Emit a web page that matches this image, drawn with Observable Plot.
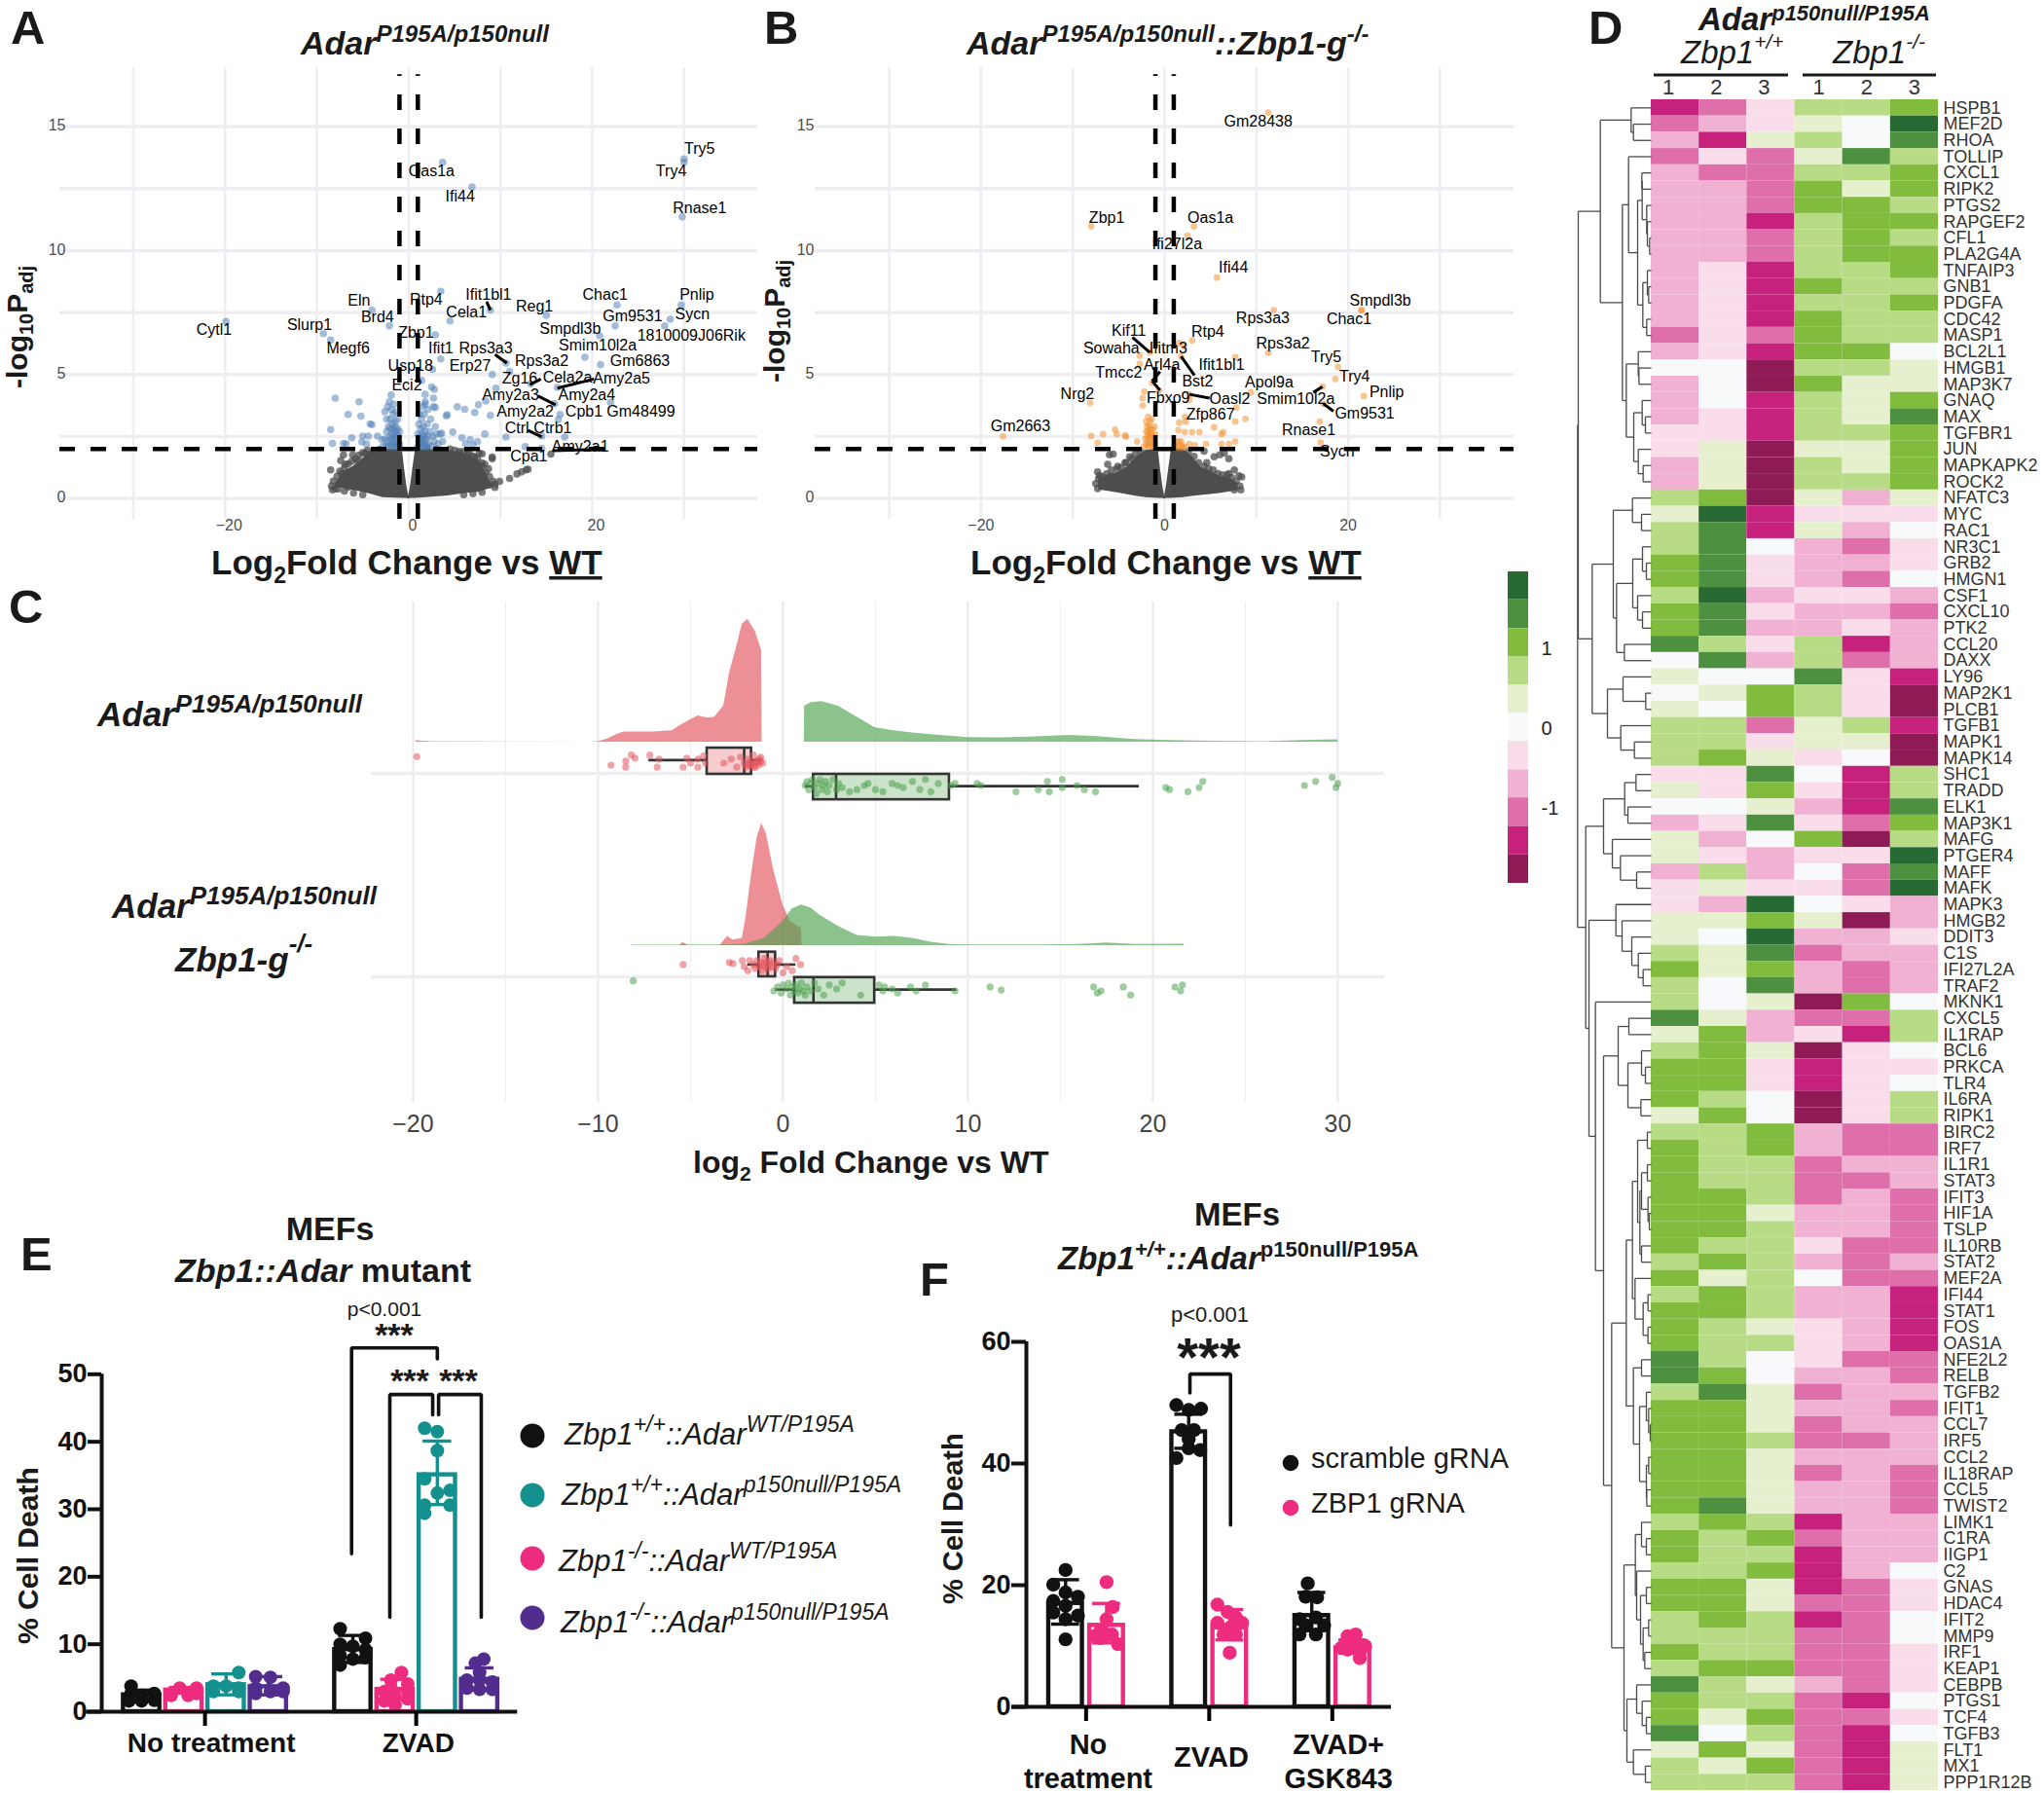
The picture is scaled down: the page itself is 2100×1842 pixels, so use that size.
<!DOCTYPE html>
<html><head><meta charset="utf-8">
<script src="https://cdn.jsdelivr.net/npm/d3@7"></script>
<script src="https://cdn.jsdelivr.net/npm/@observablehq/plot@0.6"></script>
<style>
html,body{margin:0;padding:0;background:#fff}
#page{position:relative;width:2100px;height:1842px;overflow:hidden;font-family:"Liberation Sans",Arial,sans-serif}
#page svg{position:absolute;overflow:visible}
</style></head><body><div id="page"></div>
<script>
/* ---------- Panel A: volcano ---------- */
const gridX=[-30,-20,-10,0,10,20,30], gridY=[0,2.5,5,7.5,10,12.5,15];
const cloudA=[[-8,.45,.6],[-7,.4,1.1],[-6,.33,1.3],[-5,.25,1.6],[-4.2,.18,1.9],[-2.8,.03,2],[-.7,0,2],[-.45,0,1.2],[-.2,0,.5],[0,-.03,.1],[.2,0,.5],[.45,0,1.2],[.75,0,2],[4.3,.1,1.95],[6.1,.2,1.8],[7.8,.26,1.5],[8.8,.4,.75],[9.2,.45,.5]];
const grayA=[[-8.5,1.15],[-7.1,1.76],[-7.4,1.53],[-6.9,1.38],[-7.3,1],[-6.6,.84],[-6.1,1.76],[-5.5,1.53],[-4.7,1.83],[-4.2,1.6],[-6.6,.46],[-7.7,.38],[5.6,1.83],[6.4,1.76],[7.2,1.68],[7.7,1.83],[9.1,1.6],[8.3,1.38],[6.9,1.15],[8.8,.54],[9.4,.58],[9.9,.69],[11,.81],[11.8,.99],[12.3,1.07],[12.8,1.15],[13,1.18],[15.5,1.79],[8,1.8],[9.1,1.67],[8,1.44],
[-7.8,.9],[-7.5,1.1],[-7,1.25],[-6.6,1.4],[-6.2,1.5],[-5.8,1.6],[-5.4,1.75],[-5,1.85],[-4.5,1.95],[-3.8,1.95],[-3.2,1.98],[-8.2,.7],[-8.4,.5],[-8.3,.35],[4.5,2],[5,1.95],[5.5,1.9],[6,1.9],[6.6,1.85],[7,1.7],[7.5,1.6],[8,1.3],[8.4,1.05],[8.8,.9],[9.2,.7],[9.4,.45],[8.7,1.2],[3,2],[2,2],[-7,.3],[-6,.22],[-5,.15],[6,.15],[7,.2],[8,.25],[-8,.4]];
const blueA=[[-19.9,7.14],[-9.3,6.65],[-8.5,6.39],[-4,7.6],[-2.1,6.96],[3.7,13.56],[6.9,12.57],[30,13.7],[30,13.56],[29.8,11.36],[3.5,8.36],[8.9,7.6],[4.5,7.16],[15,7.39],[22.7,7.81],[22.5,6.96],[29.7,7.81],[28.5,7.23],[27.9,6.96],[2.9,6.6],[20.8,6.56],[3.5,5.63],[2.6,5.21],[19.2,5.7],[20.9,5.4],[10.6,5.46],[11,5.12],[9.1,5],[1.4,4.76],[13.3,4.63],[16.2,4.48],[9.5,4.45],[15.9,3.82],[22,3.87],[16.5,3.39],[16.3,3.18],[14.5,2.52],[17,2.48],[14.5,2.02],[12.7,2.09],[10.6,2.48],
[-8,4.05],[-5.4,3.9],[-6.6,3.39],[-5.2,3.32],[-4.2,3.01],[-4,2.98],[-8.5,2.78],[-8.3,2.22],[-7.1,2.22],[-6.2,2.45],[-5,2.52],[-5.1,2.28],[-4.4,2.52],[-3.4,2.52],[-2.9,2.37],[-4.6,2.2],[-6.8,2.2],[-1.9,4.17],
[1.8,4.2],[2.5,4.5],[2.8,4.4],[2.7,4.05],[1.8,3.8],[2.9,3.67],[4.1,3.33],[4.2,3.38],[5.3,3.7],[6.1,3.6],[7.2,3.47],[7.6,3.78],[8.4,3.93],[8.9,3.35],[4.8,2.68],[3.6,2.63],[5.8,2.45],[6.7,2.37],[7.5,2.29],[8.3,2.6],[6.2,2.2],[7,2.15],
[-2.8,2.1],[-2.6,2.4],[-2.5,2.1],[-2.4,2.7],[-2.3,2.3],[-2.2,2.1],[-2.2,2.9],[-2.1,2.5],[-2,2.2],[-2,2.8],[-2,3.2],[-1.9,2.4],[-1.9,3.6],[-1.8,2.1],[-1.8,2.6],[-1.8,3],[-1.7,2.3],[-1.7,2.8],[-1.7,3.4],[-1.6,2.1],[-1.6,2.5],[-1.6,3.8],[-1.5,2.2],[-1.5,2.7],[-1.5,3.1],[-1.4,2.4],[-1.4,2.9],[-1.4,3.5],[-1.3,2.1],[-1.3,2.6],[-1.2,2.3],[-1.2,2.8],[-1.2,3.2],[-1.1,2.1],[-1.1,2.5],[-1,2.2],[-1,2.7],[-2.6,3.5],[-2.4,3.2],[-2.3,3.7],[-2.1,3.9],
[1,2.1],[1,2.6],[1.1,2.3],[1.1,3],[1.2,2.1],[1.2,2.5],[1.2,3.4],[1.3,2.2],[1.3,2.8],[1.4,2.4],[1.4,3.2],[1.5,2.1],[1.5,2.6],[1.5,3.7],[1.6,2.3],[1.6,2.9],[1.7,2.1],[1.7,2.5],[1.7,3.4],[1.8,2.2],[1.8,2.7],[1.8,3.9],[1.9,2.4],[2,2.1],[2,3],[2.1,2.5],[2.1,3.6],[2.2,2.2],[2.3,2.7],[2.4,3.2],[2.5,2.1],[2.6,2.5],[2.7,3.7],[2.8,2.3],[2.9,2.9],[3,2.6],[3.2,2.2],[3.4,2.6],[3.7,2.3]];
const labelsA=[["Cytl1",-21.2,6.8],["Slurp1",-10.8,7],["Megf6",-6.6,6.04],["Eln",-5.4,7.98],["Brd4",-3.4,7.31],["Rtp4",1.9,8.03],["Ifit1bl1",8.7,8.21],["Cela1",6.3,7.52],["Reg1",13.7,7.75],["Chac1",21.4,8.21],["Gm9531",24.4,7.34],["Pnlip",31.4,8.21],["Sycn",30.9,7.45],["1810009J06Rik",30.8,6.57],["Zbp1",.8,6.7],["Smpdl3b",17.6,6.83],["Ifit1",3.5,6.04],["Rps3a3",8.4,6.07],["Rps3a2",14.5,5.54],["Smim10l2a",20.6,6.19],["Gm6863",25.2,5.54],["Usp18",.2,5.35],["Erp27",6.7,5.35],["Zg16",12.1,4.85],["Cela2a",17.3,4.88],["Amy2a5",23.2,4.85],["Eci2",-.2,4.56],["Amy2a3",11.1,4.17],["Amy2a4",19.4,4.17],["Amy2a2",12.7,3.52],["Cpb1",19.1,3.52],["Gm48499",25.3,3.52],["Ctrl",11.8,2.83],["Ctrb1",15.7,2.83],["Amy2a1",18.7,2.09],["Cpa1",13.1,1.71],["Try5",31.7,14.1],["Try4",28.6,13.2],["Oas1a",2.5,13.2],["Ifi44",5.6,12.2],["Rnase1",31.7,11.7]];
const connA=[[8.5,7.94,8.9,7.6],[9.4,5.81,10.7,5.46],[13.2,4.59,14.4,4.82],[16.2,4.45,20.2,4.82],[14.1,4.13,16,3.78],[13,2.75,14.5,2.48],[15.7,1.93,21.3,1.99]];

/* ---------- Panel B: volcano ---------- */
const cloudB=[[-7.2,.35,.75],[-6,.28,1],[-5,.22,1.05],[-4,.15,1.3],[-3,.08,1.7],[-2,.03,1.95],[-.7,0,2],[-.45,0,1.2],[-.2,0,.5],[0,-.03,.1],[.2,0,.5],[.45,0,1.2],[.75,0,2],[2,.03,2],[3,.08,1.7],[4,.12,1.25],[5,.16,1.1],[6,.2,.9],[7,.26,.85],[8,.33,.6]];
const grayB=[[-7.3,1.07],[-7.1,.92],[-6,1.76],[-5.6,1.79],[-6.2,1.38],[-5.1,1.3],[-4.3,1.45],[-3.8,1.68],[7,1.6],[6.5,1.83],[6,1.76],[8.1,.92],[7.6,1.15],[7,1],[5.4,1.68],[4.6,1.45],[4.3,1.91],[8.4,.87],
[-7.5,.6],[-7.2,.8],[-6.8,.9],[-6.3,1],[-5.8,1.15],[-5.2,1.2],[-4.7,1.25],[-4.2,1.45],[-3.6,1.6],[-3.2,1.8],[-2.6,1.9],[2.6,1.9],[3.2,1.7],[3.7,1.45],[4.3,1.3],[4.8,1.2],[5.3,1.15],[5.8,1],[6.3,.95],[6.8,.95],[7.3,.85],[7.8,.7],[8.2,.5],[8.3,.35],[7.6,.35],[-7.3,.4]];
const orangeB=[[11.3,15.57],[-8,10.98],[3.2,10.98],[2.5,10.6],[5.7,8.91],[21.5,7.6],[21.4,7.6],[11.9,7.6],[3,6.38],[-1.6,5.89],[-2.7,5.76],[1.6,6.27],[2.1,6.15],[-2.7,5.43],[11.3,5.87],[7.7,5.7],[1.8,5.73],[18.9,5.31],[18.6,4.82],[21.7,4.13],[9.4,4.28],[17.2,4.51],[17.3,3.82],[-8.1,3.85],[-1.35,4.66],[-.6,4.36],[2.7,4.2],[2.7,3.98],[-2.2,4.31],[-2.4,4.05],[-2.4,3.75],[7.8,3.67],[2.2,3.29],[2.3,3.1],[8.8,3.21],[7.7,3.1],[16.9,3.1],[5.4,2.87],[17,2.26],[-17.6,2.51],
[-8,2.52],[-6.7,2.6],[-5.4,2.78],[-5.2,2.6],[-4.3,2.55],[-4.2,2.49],[-3,2.3],[-7.3,2.25],[1.6,3.06],[1.5,2.76],[2.2,2.68],[3,2.68],[3.8,2.68],[4.5,2.2],[6.2,2.6],[6.4,2.68],[6.2,2.2],[7,2.2],[7.7,2.3],[2.7,2.2],[2.2,2.1],[3.3,2.15],[1.6,2.3],[1.9,2.05],
[-2.2,2.1],[-2.1,2.4],[-2,2.2],[-2,2.7],[-2,3.1],[-1.9,2.5],[-1.9,2.9],[-1.8,2.1],[-1.8,2.3],[-1.8,2.7],[-1.8,3.3],[-1.7,2.5],[-1.7,2.9],[-1.6,2.2],[-1.6,2.6],[-1.6,3.1],[-1.5,2.4],[-1.5,2.8],[-1.4,2.1],[-1.4,2.6],[-1.4,3.2],[-1.3,2.3],[-1.3,2.8],[-1.2,2.5],[-1.2,2.1],[-1.1,2.4],[-1.1,2.9],[-1,2.2],[-1,2.6],[1.1,2.1],[1.3,2.3],[1.4,2.05],[1.6,2.15],[1.8,2.3],[2,2.1]];
const labelsB=[["Gm28438",10.2,15.2],["Zbp1",-6.3,11.3],["Oas1a",5,11.3],["Ifi27l2a",1.35,10.24],["Ifi44",7.5,9.3],["Smpdl3b",23.5,7.98],["Chac1",20.1,7.23],["Rps3a3",10.7,7.26],["Rtp4",4.7,6.73],["Kif11",-3.9,6.76],["Sowaha",-5.8,6.07],["Ifitm3",.4,6.07],["Rps3a2",12.9,6.25],["Try5",17.6,5.69],["Ifit1bl1",6.2,5.4],["Arl4a",-.3,5.38],["Tmcc2",-5,5.09],["Try4",20.7,4.92],["Bst2",3.6,4.72],["Apol9a",11.4,4.69],["Nrg2",-9.5,4.2],["Pnlip",24.2,4.28],["Fbxo9",.4,4.05],["Oasl2",7.1,4.02],["Smim10l2a",14.3,4.02],["Gm9531",21.8,3.44],["Zfp867",5,3.39],["Rnase1",15.7,2.75],["Gm2663",-15.7,2.9],["Sycn",18.8,1.88]];
const connB=[[-3.5,6.5,-1.6,5.89],[1.8,5.73,3.25,4.97],[-.5,5.12,-1.35,4.74],[-1.35,4.74,-.5,4.36],[2.7,4.2,4.9,4.05],[16.2,4.28,17.2,4.51],[17.3,3.82,18.4,3.52]];

/* ---------- Panel C: raincloud ---------- */
const cTicks=[-20,-10,0,10,20,30], cMinor=[-15,-5,5,15,25];
const densRedA=[[-19.9,0],[-19.8,.008],[-19.5,.005],[-19,.002],[-10.5,0],[-10,.002],[-9.5,.015],[-9,.037],[-8.6,.05],[-8,.05],[-7,.05],[-6,.056],[-5.5,.085],[-5,.11],[-4.6,.129],[-4.1,.12],[-3.7,.122],[-3.2,.18],[-2.9,.335],[-2.5,.47],[-2.2,.58],[-1.9,.604],[-1.5,.546],[-1.15,.45],[-1.13,0]];
const densGreenA=[[1.15,0],[1.17,.177],[1.5,.194],[2.1,.2],[3,.177],[4,.123],[5,.07],[6,.056],[7,.046],[8,.037],[10,.023],[12,.021],[14,.027],[15.5,.033],[17,.027],[19,.013],[21,.008],[24,.004],[26,.002],[28,.008],[30,.012],[30.01,0]];
const densRedB=[[-8.2,0],[-5.6,0],[-5.4,.015],[-5.1,0],[-3.4,0],[-3,.046],[-2.7,.027],[-2.2,.036],[-2,.14],[-1.7,.35],[-1.4,.53],[-1.15,.6],[-.9,.55],[-.5,.37],[0,.2],[.4,.12],[.7,.1],[1,.085],[1.03,0]];
const densGreenB=[[-8.2,.002],[-3,.003],[-2,.008],[-1,.036],[0,.12],[.5,.18],[1,.2],[1.5,.185],[2,.15],[3,.095],[4,.05],[5,.042],[6,.046],[7,.036],[8,.017],[9,.006],[10,.004],[14,.003],[16,.006],[17.5,.013],[19,.006],[21.7,.007]];
const cBase=[["A",1],["B",0]];
const cBoxes=[{q1:-4.1,med:-2.1,q3:-1.7,lo:-7.25,hi:-1.1,y1:.995,y2:1.124,w:1.065,col:"#E4555C"},{q1:1.65,med:2.87,q3:9,lo:1.2,hi:19.27,y1:.87,y2:.995,w:.937,col:"#4FA24F"},{q1:-1.3,med:-.83,q3:-.4,lo:-1.9,hi:.7,y1:0,y2:.121,w:.06,col:"#E4555C"},{q1:.63,med:1.65,q3:4.96,lo:-.4,hi:9.4,y1:-.13,y2:-.004,w:-.063,col:"#4FA24F"}];
const jitRedA=[[-19.8,1.082],[-9.3,1.04],[-8.5,1.03],[-8.5,1.06],[-8.2,1.09],[-8,1.075],[-7.2,1.09],[-6.8,1.03],[-6.7,1.07],[-5.4,1.03],[-5.2,1.075],[-5,1.05],[-4.6,1.07],[-4.6,1.03],[-4.3,1.085],[-4.2,1.05],[-3.2,1.05],[-2.8,1.07],[-2.5,1.03],[-2.3,1.08],[-2.1,1.05],[-2,1.03],[-1.9,1.07],[-1.8,1.05],[-1.6,1.09],[-1.5,1.03],[-1.4,1.06],[-1.3,1.04],[-1.2,1.08],[-1.1,1.05],[-1.7,1.06],[-1.5,1.05],[-1.3,1.07],[-1.9,1.04],[-1.6,1.03],[-1.4,1.05],[-1.7,1.04],[-1.2,1.06]];
const jitGreenA=[[1.2,.94],[1.3,.96],[1.4,.92],[1.5,.95],[1.6,.97],[1.7,.93],[1.8,.9],[1.9,.95],[2,.97],[2.1,.92],[2.2,.94],[2.3,.96],[2.4,.91],[2.5,.94],[2.7,.97],[2.9,.92],[3,.95],[3.2,.93],[3.6,.91],[4,.92],[4.4,.94],[4.6,.95],[5,.92],[5.4,.91],[5.9,.95],[6.2,.94],[6.5,.93],[7,.96],[7.4,.92],[7.7,.97],[8,.91],[8.4,.95],[9.1,.94],[9.3,.95],[10.5,.95],[10.7,.94],[12.6,.91],[13.8,.92],[14.3,.96],[14.4,.91],[15.1,.97],[15.1,.93],[15.9,.94],[16.3,.92],[16.9,.91],[20.7,.93],[20.9,.92],[21.9,.91],[22.5,.93],[22.7,.96],[28.2,.94],[28.8,.96],[29.7,.98],[30,.95],[29.9,.93]];
const jitRedB=[[-5.4,.06],[-2.9,.07],[-2.7,.065],[-2.2,.08],[-2.1,.05],[-1.9,.03],[-1.8,.08],[-1.6,.06],[-1.5,.04],[-1.4,.08],[-1.3,.05],[-1.2,.07],[-1.1,.03],[-1.1,.06],[-1,.09],[-1,.05],[-.9,.07],[-.8,.04],[-.8,.06],[-.7,.08],[-.6,.05],[-.5,.07],[-.4,.04],[-.3,.06],[-.2,.08],[.2,.05],[.5,.03],[.7,.09],[.95,.06],[0,.02]];
const jitGreenB=[[-8.1,-.02],[-.5,-.07],[-.3,-.05],[-.1,-.08],[0,-.04],[.2,-.06],[.3,-.03],[.4,-.09],[.5,-.05],[.6,-.07],[.7,-.04],[.8,-.08],[.9,-.06],[1,-.03],[1.1,-.07],[1.2,-.09],[1.3,-.05],[1.5,-.07],[1.7,-.03],[1.9,-.06],[2.2,-.09],[2.5,-.04],[2.9,-.06],[3.2,-.03],[4.2,-.09],[5.2,-.04],[5.4,-.07],[5.5,-.05],[5.9,-.06],[6.2,-.08],[6.9,-.05],[7.2,-.07],[7.7,-.04],[9.3,-.07],[11.2,-.05],[11.8,-.065],[16.8,-.05],[17,-.08],[17.2,-.07],[18.4,-.05],[18.8,-.09],[21.2,-.05],[21.5,-.07],[21.6,-.04]];

/* ---------- Panel D: heatmap ---------- */
const genes=["HSPB1","MEF2D","RHOA","TOLLIP","CXCL1","RIPK2","PTGS2","RAPGEF2","CFL1","PLA2G4A","TNFAIP3","GNB1","PDGFA","CDC42","MASP1","BCL2L1","HMGB1","MAP3K7","GNAQ","MAX","TGFBR1","JUN","MAPKAPK2","ROCK2","NFATC3","MYC","RAC1","NR3C1","GRB2","HMGN1","CSF1","CXCL10","PTK2","CCL20","DAXX","LY96","MAP2K1","PLCB1","TGFB1","MAPK1","MAPK14","SHC1","TRADD","ELK1","MAP3K1","MAFG","PTGER4","MAFF","MAFK","MAPK3","HMGB2","DDIT3","C1S","IFI27L2A","TRAF2","MKNK1","CXCL5","IL1RAP","BCL6","PRKCA","TLR4","IL6RA","RIPK1","BIRC2","IRF7","IL1R1","STAT3","IFIT3","HIF1A","TSLP","IL10RB","STAT2","MEF2A","IFI44","STAT1","FOS","OAS1A","NFE2L2","RELB","TGFB2","IFIT1","CCL7","IRF5","CCL2","IL18RAP","CCL5","TWIST2","LIMK1","C1RA","IIGP1","C2","GNAS","HDAC4","IFIT2","MMP9","IRF1","KEAP1","CEBPB","PTGS1","TCF4","TGFB3","FLT1","MX1","PPP1R12B"];
const samples=["a1","a2","a3","b1","b2","b3"], sampleLabel={a1:"1",a2:"2",a3:"3",b1:"1",b2:"2",b3:"3"};
const heat=[[-4,-3,-1,2,2,3],[-3,-2,-1,1,0,5],[-2,-4,1,2,0,4],[-3,-1,-3,1,4,2],[-2,-3,-3,2,2,3],[-2,-2,-3,3,1,3],[-2,-2,-3,3,3,2],[-2,-2,-4,2,3,3],[-2,-2,-3,2,3,2],[-2,-2,-3,2,3,3],
[-2,-1,-4,2,2,3],[-2,-1,-4,3,2,2],[-2,-1,-4,2,2,3],[-2,-1,-4,3,2,2],[-3,-1,-3,3,2,2],[-2,-1,-4,3,3,0],[0,0,-5,2,2,1],[-2,0,-5,3,1,1],[-2,0,-4,2,1,3],[-2,-1,-4,2,1,4],
[-1,-1,-4,2,2,3],[-1,1,-5,1,1,3],[-2,1,-5,2,1,3],[-2,1,-5,2,2,3],[2,3,-5,1,-2,1],[1,5,-4,-1,-1,-1],[2,4,-4,1,-2,0],[2,4,0,-2,-3,-1],[3,4,-1,-2,-2,-1],[3,4,-1,-2,-3,0],
[2,5,-2,-1,-1,-2],[3,4,-1,-2,-2,-3],[3,4,-2,-2,-1,-2],[4,2,-1,2,-4,-2],[0,4,-2,2,-3,-2],[1,0,0,4,-1,-4],[0,1,3,2,-1,-5],[1,0,3,2,-1,-5],[2,2,-3,1,2,-4],[2,2,-1,1,1,-5],
[2,3,1,-1,0,-5],[-1,-1,4,0,-4,2],[1,-1,3,-1,-4,2],[0,0,1,-2,-4,4],[-2,-1,4,-1,-3,3],[1,-2,0,3,-5,2],[1,-1,-2,-1,-1,5],[-2,2,-2,0,-3,4],[-1,1,-1,-1,-3,5],[-1,-2,5,0,-1,-2],
[1,1,3,1,-5,-2],[1,0,5,-2,-2,-1],[2,1,4,-3,-2,-2],[3,1,3,-2,-3,-2],[2,0,4,-2,-3,-2],[2,0,1,-5,3,0],[4,1,-2,-3,-3,2],[1,3,-2,-1,-4,2],[2,3,1,-5,-1,0],[3,3,-1,-4,-1,-1],
[3,3,-1,-4,-1,0],[3,2,0,-5,-1,2],[1,3,0,-5,-1,2],[2,2,3,-2,-3,-3],[3,2,3,-2,-3,-3],[3,2,2,-3,-2,-2],[3,2,2,-3,-3,-2],[3,3,2,-3,-2,-3],[3,3,1,-2,-2,-3],[3,3,2,-2,-2,-3],
[3,2,2,-1,-3,-3],[2,3,2,-2,-3,-2],[3,1,2,0,-3,-3],[2,3,2,-2,-2,-4],[3,3,2,-2,-2,-4],[3,2,1,-1,-2,-4],[3,2,2,-1,-2,-4],[4,2,0,-1,-3,-3],[4,3,0,-2,-2,-3],[2,4,1,-3,-2,-2],
[3,3,1,-2,-2,-3],[3,3,1,-3,-2,-2],[3,3,2,-3,-3,-2],[3,3,1,-2,-2,-2],[3,3,1,-3,-2,-3],[3,3,1,-2,-2,-3],[3,4,1,-2,-2,-3],[2,3,2,-4,-2,-2],[3,2,3,-3,-2,-2],[3,2,2,-4,-2,-2],
[2,2,3,-4,-2,0],[3,3,1,-4,-3,-1],[3,3,1,-3,-3,-1],[2,3,2,-4,-3,0],[2,2,2,-3,-3,0],[3,2,2,-3,-3,-1],[2,3,3,-3,-3,-1],[4,2,1,-2,-3,-1],[3,2,2,-3,-4,0],[3,1,3,-3,-3,-1],
[4,0,2,-3,-4,0],[1,3,1,-3,-4,1],[2,1,3,-3,-4,1],[2,2,2,-3,-4,1]];
const levels=[5,4,3,2,1,0,-1,-2,-3,-4,-5];
const palette=["#276A33","#4D9140","#82BC3F","#B8DB85","#E6F0CE","#F8F9FA","#FADDEA","#F0B1D2","#DE6FAA","#C5217D","#8E1A56"];
const colorBreaks=[1.96,1.61,1.25,.9,.54,.19,-.16,-.52,-.87,-1.23,-1.58,-1.94];
/* dendrogram: [height, left, right]; a number is a row index */
const dendro=[227,
 [225,
  [157,[62,0,[55,1,2]],
   [89,[70,3,[42,[28,[29,4,5],[14,6,[12,7,[5,8,9]]]],[26,[12,10,[8,11,12]],[14,13,14]]]],
    [77,[40,15,[38,16,17]],[54,[28,18,[18,19,20]],[40,21,[25,22,23]]]]]],
  [182,
   [117,[58,24,[30,25,26]],[107,[57,[27,27,[15,28,29]],[42,30,[27,31,32]]],[83,33,34]]],
   [135,[87,35,[17,36,37]],[94,38,[52,39,40]]]]],
 [202,
  [147,[82,[47,41,42],[72,43,44]],[120,45,[95,46,[45,47,48]]]],
  [192,
   [109,49,[90,50,[60,51,[40,52,[25,53,54]]]]],
   [172,55,
    [147,
     [102,[69,56,57],[72,[30,58,[18,59,60]],[32,61,62]]],
     [122,
      [77,
       [58,[42,[12,63,64],[35,[30,[12,65,66],[10,67,[6,68,69]]],[30,70,71]]],[50,72,[25,[10,73,74],[10,75,76]]]],
       [55,[30,77,78],[36,[15,79,[8,80,[3,81,82]]],[15,[8,83,84],[14,85,86]]]]],
      [84,
       [49,[30,87,[15,88,89]],[45,90,[33,[15,91,92],[25,[8,93,94],[20,95,96]]]]],
       [75,[45,97,[28,98,[15,99,100]]],[55,101,[18,102,103]]]]]]]]]];

/* ---------- Panel E: bars ---------- */
const eColors={black:"#111111",teal:"#14908E",pink:"#EE2C7F",purple:"#532D8E"};
const eBars=[{pos:0,c:"black",v:2.5,lo:1.9,hi:3.2},{pos:1,c:"pink",v:3.2,lo:2.8,hi:3.6},{pos:2,c:"teal",v:4,lo:2.5,hi:5.6},{pos:3,c:"purple",v:3.7,lo:2.5,hi:5.2},{pos:5,c:"black",v:9.2,lo:7.3,hi:11.3},{pos:6,c:"pink",v:3.3,lo:1.8,hi:4.8},{pos:7,c:"teal",v:35.1,lo:30.7,hi:40.1},{pos:8,c:"purple",v:4.8,lo:3.2,hi:6.5}];
const ePts=[[0,-.25,3.8],[0,-.25,2.7],[0,.3,2.7],[0,0,2.4],[0,-.3,1.6],[0,0,1.6],[0,.3,1.7],
[1,-.3,2.7],[1,-.1,3.5],[1,.3,3.5],[1,.1,2.4],[1,-.3,2.4],[1,.3,2.7],
[2,.3,5.8],[2,0,3.8],[2,-.3,3],[2,.3,3.5],[2,-.3,3.8],[2,.3,3],
[3,-.3,5.2],[3,.05,5.1],[3,.35,3.5],[3,-.3,3.5],[3,.05,3],[3,-.3,2.7],[3,.35,3],
[5,-.3,12.3],[5,.3,10.9],[5,-.3,10],[5,0,9.7],[5,.3,9.2],[5,-.3,8.3],[5,0,7.8],[5,-.3,6.9],[5,.3,8],
[6,.15,5.8],[6,.3,4.1],[6,-.1,3.5],[6,-.25,3],[6,0,2.4],[6,.3,1.9],[6,-.25,1.6],[6,0,1],[6,.3,3],[6,-.1,4.7],
[7,-.3,42],[7,0,41.5],[7,0,38.7],[7,-.3,34.5],[7,.3,32.8],[7,0,32.4],[7,-.3,30.6],[7,.3,30.6],[7,-.3,29.4],
[8,.1,7.8],[8,-.1,7.2],[8,0,5.8],[8,-.3,4.7],[8,0,4.7],[8,.3,4.4],[8,-.3,3.5],[8,0,3.3],[8,.3,3.3]];
const eCats=[["No treatment",1.65],["ZVAD",6.55]];
const eBrackets=[[[4.97,23.4],[4.97,53.9],[7,53.9],[7,52.3]],[[5.875,14],[5.875,47],[6.89,47],[6.89,44]],[[8.04,14],[8.04,47],[7.03,47],[7.03,44]]];

/* ---------- Panel F: bars ---------- */
const fBars=[{pos:0,c:"black",v:17,lo:13.6,hi:20.9},{pos:1,c:"pink",v:13.4,lo:10.5,hi:17},{pos:3,c:"black",v:45.2,lo:42.5,hi:48.1},{pos:4,c:"pink",v:13.3,lo:11,hi:16},{pos:6,c:"black",v:15,lo:12.5,hi:18.8},{pos:7,c:"pink",v:9.7,lo:8.8,hi:11}];
const fPts=[[0,0,22.5],[0,-.3,20.1],[0,0,18.8],[0,.3,18.1],[0,-.3,17.4],[0,0,16.6],[0,.3,15],[0,-.3,15.5],[0,0,14.4],[0,0,11.1],
[1,0,20.5],[1,.15,16.4],[1,0,14.4],[1,-.15,12.5],[1,-.3,11.6],[1,0,11.9],[1,.28,10.3],[1,-.15,11.3],[1,.13,11.9],
[3,-.3,49.6],[3,0,48.8],[3,.3,49],[3,-.17,45.5],[3,.13,45.5],[3,0,44],[3,-.3,40.9],[3,0,42.5],[3,.28,42.2],
[4,-.3,16.8],[4,-.05,15.6],[4,.15,14.7],[4,-.3,13.8],[4,.3,13.8],[4,0,13],[4,-.15,11.9],[4,.15,11.9],[4,0,8.9],
[6,-.1,20.3],[6,-.15,18.1],[6,.13,18],[6,-.3,14.4],[6,.1,14.7],[6,.3,13.4],[6,-.15,13.4],[6,-.3,11.9],[6,.1,11.9],
[7,.07,11.9],[7,-.13,11.6],[7,0,10.6],[7,-.28,9.7],[7,.3,10],[7,-.13,9.4],[7,.17,9.4],[7,.17,8],[7,0,9.7]];
const fCats2=[["No\ntreatment",.55],["ZVAD+\nGSK843",6.65]], fCats1=[["ZVAD",3.55]];
const fBracket=[[3.03,51.6],[3.03,54.7],[4.02,54.7],[4.02,29.9]];

/* ---------- helpers ---------- */
const page=document.getElementById("page");
const FONT='"Liberation Sans",Arial,sans-serif';
function put(p,left,top){p.style.left=left+"px";p.style.top=top+"px";p.style.background="transparent";p.style.overflow="visible";page.appendChild(p);return p;}
const toRows=a=>a.map(d=>({x:d[0],y:d[1]}));

function volcano(o){
  const cloud=o.cloud.map(d=>({x:d[0],lo:d[1],hi:d[2]}));
  const labels=o.labels.map(d=>({t:d[0],x:d[1],y:d[2]}));
  const conn=o.conn.map(d=>({x1:d[0],y1:d[1],x2:d[2],y2:d[3]}));
  return Plot.plot({width:o.width,height:570,marginLeft:o.ml,marginRight:o.mr,marginTop:69,marginBottom:37,
    style:{fontFamily:FONT,background:"transparent",overflow:"visible"},
    x:{domain:o.xd,label:null},y:{domain:[-.84,17.38],label:null},
    marks:[
      Plot.ruleX(gridX,{stroke:"#EEEEF2",strokeWidth:2.6}),
      Plot.ruleY(gridY,{stroke:"#EEEEF2",strokeWidth:3.4}),
      Plot.axisX({ticks:[-20,0,20],tickSize:0,tickPadding:0,fontSize:16,color:"#4d4d4d",dx:o.tdx,label:null}),
      Plot.axisY({ticks:[0,5,10,15],tickSize:0,tickPadding:o.typ,fontSize:16,color:"#4d4d4d",dy:-1,label:null}),
      Plot.areaY(cloud,{x:"x",y1:"lo",y2:"hi",fill:"#4d4d4d"}),
      Plot.dot(toRows(o.gray),{x:"x",y:"y",r:3.8,fill:"#4d4d4d",fillOpacity:.75}),
      Plot.dot(toRows(o.pts),{x:"x",y:"y",r:o.r,fill:o.color,fillOpacity:.52}),
      Plot.ruleY([2],{stroke:"#000",strokeWidth:4.5,strokeDasharray:"16,16"}),
      Plot.ruleX([-1,1],{y1:-.84,y2:17.1,stroke:"#000",strokeWidth:4.5,strokeDasharray:"16,19"}),
      Plot.link(conn,{x1:"x1",y1:"y1",x2:"x2",y2:"y2",stroke:"#000",strokeWidth:3}),
      Plot.text(labels,{x:"x",y:"y",text:"t",fontSize:16,fill:"#000"})
    ]});
}
put(volcano({width:790,ml:61,mr:12,xd:[-38,38.03],cloud:cloudA,gray:grayA,pts:blueA,color:"#4F7FB5",r:3.8,labels:labelsA,conn:connA,tdx:4,typ:-6}),0,0);
put(volcano({width:790,ml:57,mr:15,xd:[-38.07,38.07],cloud:cloudB,gray:grayB,pts:orangeB,color:"#F28E2B",r:3.4,labels:labelsB,conn:connB,tdx:0,typ:1}),780,0);

/* Panel C */
const area=(d,base,fill)=>Plot.areaY(d.map(e=>({x:e[0],y1:base+.153,y2:base+.153+e[1]})),{x:"x",y1:"y1",y2:"y2",fill,fillOpacity:.65});
const jit=(d,fill)=>Plot.dot(toRows(d),{x:"x",y:"y",r:3.6,fill,fillOpacity:.55});
put(Plot.plot({width:1100,height:600,marginLeft:41,marginRight:18,marginTop:0,marginBottom:86.5,
  style:{fontFamily:FONT,background:"transparent",overflow:"visible"},
  x:{domain:[-22.26,32.53],label:null},y:{domain:[-.615,1.842],label:null,axis:null},
  marks:[
    Plot.ruleX(cTicks,{stroke:"#E8E8EC",strokeWidth:2}),
    Plot.ruleX(cMinor,{stroke:"#EEEEF0",strokeWidth:1}),
    Plot.ruleY(cBase,{y:d=>d[1],stroke:"#EEEEF0",strokeWidth:3.4}),
    Plot.axisX({ticks:cTicks,tickSize:0,tickPadding:13,fontSize:25,color:"#444",label:null}),
    area(densRedA,1,"#E4555C"),area(densGreenA,1,"#4FA24F"),
    area(densRedB,0,"#E4555C"),area(densGreenB,0,"#4FA24F"),
    Plot.rect(cBoxes,{x1:"q1",x2:"q3",y1:"y1",y2:"y2",fill:"col",fillOpacity:.3,stroke:"#333",strokeWidth:2.6}),
    Plot.ruleX(cBoxes,{x:"med",y1:"y1",y2:"y2",stroke:"#333",strokeWidth:2.6}),
    Plot.ruleY(cBoxes,{y:"w",x1:"lo",x2:"q1",stroke:"#333",strokeWidth:2.6}),
    Plot.ruleY(cBoxes,{y:"w",x1:"q3",x2:"hi",stroke:"#333",strokeWidth:2.6}),
    jit(jitRedA,"#E4555C"),jit(jitGreenA,"#4FA24F"),jit(jitRedB,"#E4555C"),jit(jitGreenB,"#4FA24F")
  ]}),340,618);

/* Panel D heatmap */
const heatRows=genes.flatMap((g,i)=>samples.map((s,j)=>({gene:g,sample:s,level:heat[i][j]})));
put(Plot.plot({width:410,height:1772,marginLeft:6,marginRight:109,marginTop:32,marginBottom:3,
  style:{fontFamily:FONT,background:"transparent",overflow:"visible"},
  x:{domain:samples,padding:0,round:false,label:null,axis:null},
  y:{domain:genes,padding:0,round:false,label:null},
  color:{type:"ordinal",domain:levels,range:palette},
  marks:[
    Plot.cell(heatRows,{x:"sample",y:"gene",fill:"level"}),
    Plot.axisY({anchor:"right",tickSize:0,tickPadding:5,fontSize:18,color:"#333",label:null}),
    Plot.text(samples.slice(0,3),{x:d=>d,text:d=>sampleLabel[d],frameAnchor:"top",lineAnchor:"middle",dy:-13,dx:-7,fontSize:22,fill:"#333"}),
    Plot.text(samples.slice(3),{x:d=>d,text:d=>sampleLabel[d],frameAnchor:"top",lineAnchor:"middle",dy:-13,fontSize:22,fill:"#333"})
  ]}),1690,70);

/* dendrogram */
const segs=[];
function walk(n){
  if(typeof n==="number")return {y:n+.5,h:0};
  const a=walk(n[1]),b=walk(n[2]);
  segs.push({x1:n[0],y1:a.y,x2:n[0],y2:b.y},{x1:n[0],y1:a.y,x2:a.h,y2:a.y},{x1:n[0],y1:b.y,x2:b.h,y2:b.y});
  return {y:(a.y+b.y)/2,h:n[0]};
}
walk(dendro);
put(Plot.plot({width:86,height:1772,marginLeft:10,marginRight:0,marginTop:32,marginBottom:3,
  style:{background:"transparent",overflow:"visible"},
  x:{domain:[228,0],axis:null},y:{domain:[0,104],reverse:true,axis:null},
  marks:[Plot.link(segs,{x1:"x1",y1:"y1",x2:"x2",y2:"y2",stroke:"#4a4a4a",strokeWidth:1.3})]}),1610,70);

/* colour bar */
const barBins=levels.map((l,i)=>({l,hi:colorBreaks[i],lo:colorBreaks[i+1]}));
put(Plot.plot({width:60,height:320,marginLeft:0,marginRight:39,marginTop:0,marginBottom:0,
  style:{fontFamily:FONT,background:"transparent",overflow:"visible"},
  x:{domain:[0,1],axis:null},
  y:{domain:[-1.94,1.96],label:null},
  color:{type:"ordinal",domain:levels,range:palette},
  marks:[
    Plot.rect(barBins,{x1:0,x2:1,y1:"lo",y2:"hi",fill:"l"}),
    Plot.axisY({anchor:"right",ticks:[-1,0,1],tickFormat:d=>String(d),tickSize:0,tickPadding:13,fontSize:20,color:"#222",label:null})
  ]}),1549,587);

/* bar panels */
function barMarks(bars,pts,r,capw,halfw,sw){
  const byPos=new Map(bars.map(b=>[b.pos,b]));
  const col=d=>eColors[d.c];
  const P=pts.map(d=>({x:d[0]+d[1],y:d[2],fill:eColors[byPos.get(d[0]).c]}));
  return [
    Plot.rect(bars,{x1:d=>d.pos-halfw,x2:d=>d.pos+halfw,y1:0,y2:"v",stroke:col,strokeWidth:sw,fill:"none"}),
    Plot.dot(P,{x:"x",y:"y",r,fill:d=>d.fill}),
    Plot.ruleX(bars,{x:"pos",y1:"lo",y2:"hi",stroke:col,strokeWidth:3.4}),
    Plot.ruleY(bars,{y:"hi",x1:d=>d.pos-capw,x2:d=>d.pos+capw,stroke:col,strokeWidth:3.4}),
    Plot.ruleY(bars,{y:"lo",x1:d=>d.pos-capw,x2:d=>d.pos+capw,stroke:col,strokeWidth:3.4})
  ];
}
const bracket=(b)=>Plot.line(b.map(d=>({x:d[0],y:d[1]})),{x:"x",y:"y",stroke:"#111",strokeWidth:3.6,strokeLinejoin:"miter",curve:"linear"});

put(Plot.plot({width:500,height:488,marginLeft:64,marginRight:0,marginTop:0,marginBottom:72,
  style:{fontFamily:FONT,background:"transparent",overflow:"visible"},
  x:{domain:[-.945,9.101],label:null},y:{domain:[0,60],label:null},
  marks:[
    ...barMarks(eBars,ePts,7,.34,.43,4.4),
    ...eBrackets.map(bracket),
    Plot.ruleX([-.945],{y1:0,y2:50,stroke:"#111",strokeWidth:4}),
    Plot.ruleY([0],{x1:-1.31,x2:8.9,stroke:"#111",strokeWidth:4}),
    Plot.axisY({ticks:[0,10,20,30,40,50],tickSize:14,tickPadding:1,strokeWidth:4,stroke:"#111",fontSize:27,fontWeight:"bold",color:"#111",label:null}),
    Plot.axisX({ticks:[1.5,6.5],tickSize:15,strokeWidth:4,tickFormat:()=>"",label:null}),
    Plot.text(eCats,{x:d=>d[1],y:0,text:d=>d[0],dy:22,fontSize:28,fontWeight:"bold",fill:"#111",lineAnchor:"top"})
  ]}),40,1342);

put(Plot.plot({width:440,height:492,marginLeft:54,marginRight:0,marginTop:28,marginBottom:89,
  style:{fontFamily:FONT,background:"transparent",overflow:"visible"},
  x:{domain:[-.955,8.2],label:null},y:{domain:[0,60],label:null},
  marks:[
    ...barMarks(fBars,fPts,7.2,.34,.41,4.4),
    bracket(fBracket),
    Plot.ruleX([-.955],{y1:0,y2:60,stroke:"#111",strokeWidth:4}),
    Plot.ruleY([0],{x1:-1.303,x2:7.94,stroke:"#111",strokeWidth:4}),
    Plot.axisY({ticks:[0,20,40,60],tickSize:15,tickPadding:1,strokeWidth:4,stroke:"#111",fontSize:27,fontWeight:"bold",color:"#111",label:null}),
    Plot.axisX({ticks:[.5,3.5,6.5],tickSize:15,strokeWidth:4,tickFormat:()=>"",label:null}),
    Plot.text(fCats2,{x:d=>d[1],y:0,text:d=>d[0],dy:24,fontSize:29,lineHeight:1.2,fontWeight:"bold",fill:"#111",lineAnchor:"top"}),
    Plot.text(fCats1,{x:d=>d[1],y:0,text:d=>d[0],dy:41,fontSize:29,fontWeight:"bold",fill:"#111",lineAnchor:"top"})
  ]}),1000,1350);

/* ---------- text overlay ---------- */
const NS="http://www.w3.org/2000/svg";
const ov=document.createElementNS(NS,"svg");
ov.setAttribute("width",2100);ov.setAttribute("height",1842);ov.style.left="0";ov.style.top="0";ov.style.pointerEvents="none";
page.appendChild(ov);
const R=(t,size,o={})=>({t,size,...o});
function T(x,y,runs,o={}){
  const e=document.createElementNS(NS,"text");
  e.setAttribute("x",x);e.setAttribute("y",y);
  e.setAttribute("font-family",FONT);e.setAttribute("text-anchor",o.anchor||"start");
  e.setAttribute("fill",o.fill||"#1a1a1a");e.style.whiteSpace="pre";
  if(o.rot)e.setAttribute("transform",`rotate(-90 ${x} ${y})`);
  let prev=0;
  for(const r of runs){
    const s=document.createElementNS(NS,"tspan");
    s.textContent=r.t;s.setAttribute("font-size",r.size);
    if(r.b)s.setAttribute("font-weight","bold");
    if(r.i)s.setAttribute("font-style","italic");
    if(r.u)s.setAttribute("text-decoration","underline");
    const sh=r.s||0;
    if(sh!==prev)s.setAttribute("dy",-(sh-prev));
    prev=sh;
    e.appendChild(s);
  }
  ov.appendChild(e);
}
const C=(x,y,r,f)=>{const c=document.createElementNS(NS,"circle");c.setAttribute("cx",x);c.setAttribute("cy",y);c.setAttribute("r",r);c.setAttribute("fill",f);ov.appendChild(c);};
const bi={b:1,i:1};
/* panel letters */
[["A",11,45],["B",785,45],["C",9,640],["D",1632,45],["E",21,1305],["F",945,1331]].forEach(d=>T(d[1],d[2],[R(d[0],49,{b:1})]));
/* A, B titles */
T(309,56,[R("Adar",34,bi),R("P195A/p150null",24,{...bi,s:13})]);
T(993,56,[R("Adar",34,bi),R("P195A/p150null",24,{...bi,s:13}),R("::Zbp1-g",34,bi),R("-/-",24,{...bi,s:13})]);
const ylab=(x,y)=>T(x,y,[R("-log",30,{b:1}),R("10",20,{b:1,s:-6}),R("P",30,{b:1}),R("adj",20,{b:1,s:-6})],{rot:1});
ylab(28,399);ylab(806,393);
const xlab=x=>T(x,590,[R("Log",35,{b:1}),R("2",23,{b:1,s:-9}),R("Fold Change vs ",35,{b:1}),R("WT",35,{b:1,u:1})]);
xlab(217);xlab(997);
/* C */
T(100,746,[R("Adar",35,bi),R("P195A/p150null",26,{...bi,s:14})]);
T(115,943,[R("Adar",35,bi),R("P195A/p150null",26,{...bi,s:14})]);
T(180,998,[R("Zbp1-g",35,bi),R("-/-",26,{...bi,s:20})]);
T(712,1205,[R("log",32,{b:1}),R("2",21,{b:1,s:-8}),R(" Fold Change vs WT",32,{b:1})]);
/* D */
T(1745,31,[R("Adar",33,bi),R("p150null/P195A",22,{...bi,s:10})]);
T(1727,65,[R("Zbp1",33,{i:1}),R("+/+",21,{i:1,s:15})]);
T(1883,65,[R("Zbp1",33,{i:1}),R("-/-",21,{i:1,s:15})]);
[[1699,1837],[1852,1989]].forEach(d=>{const l=document.createElementNS(NS,"line");l.setAttribute("x1",d[0]);l.setAttribute("x2",d[1]);l.setAttribute("y1",77);l.setAttribute("y2",77);l.setAttribute("stroke","#1a1a1a");l.setAttribute("stroke-width",3);ov.appendChild(l);});
/* E */
T(339,1274,[R("MEFs",34,{b:1})],{anchor:"middle"});
T(180,1317,[R("Zbp1::Adar",34,bi),R(" mutant",34,{b:1})]);
T(39,1689,[R("% Cell Death",30,{b:1})],{rot:1});
T(395,1352,[R("p<0.001",21)],{anchor:"middle"});
T(405,1383,[R("***",34,{b:1})],{anchor:"middle"});
T(421,1430,[R("***",34,{b:1})],{anchor:"middle"});
T(471,1430,[R("***",34,{b:1})],{anchor:"middle"});
const eLeg=[[1475,"#111111",580,1484,"+/+","WT/P195A"],[1536,"#14908E",577,1546,"+/+","p150null/P195A"],[1601,"#EE2C7F",574,1614,"-/-","WT/P195A"],[1662,"#532D8E",576,1677,"-/-","p150null/P195A"]];
eLeg.forEach(d=>{C(547,d[0],12.5,d[1]);T(d[2],d[3],[R("Zbp1",31,{i:1}),R(d[4],23,{i:1,s:13}),R("::Adar",31,{i:1}),R(d[5],23,{i:1,s:13})]);});
/* F */
T(1271,1259,[R("MEFs",33,{b:1})],{anchor:"middle"});
T(1087,1304,[R("Zbp1",33,bi),R("+/+",22,{...bi,s:13}),R("::Adar",33,bi),R("p150null/P195A",22,{b:1,s:13})]);
T(989,1648,[R("% Cell Death",29,{b:1})],{rot:1});
T(1243,1358,[R("p<0.001",22)],{anchor:"middle"});
T(1242,1413,[R("***",56,{b:1})],{anchor:"middle"});
C(1326,1503,8.3,"#111111");C(1326,1549,8.3,"#EE2C7F");
T(1347,1508,[R("scramble gRNA",29)]);T(1347,1554,[R("ZBP1 gRNA",29)]);
</script></body></html>
